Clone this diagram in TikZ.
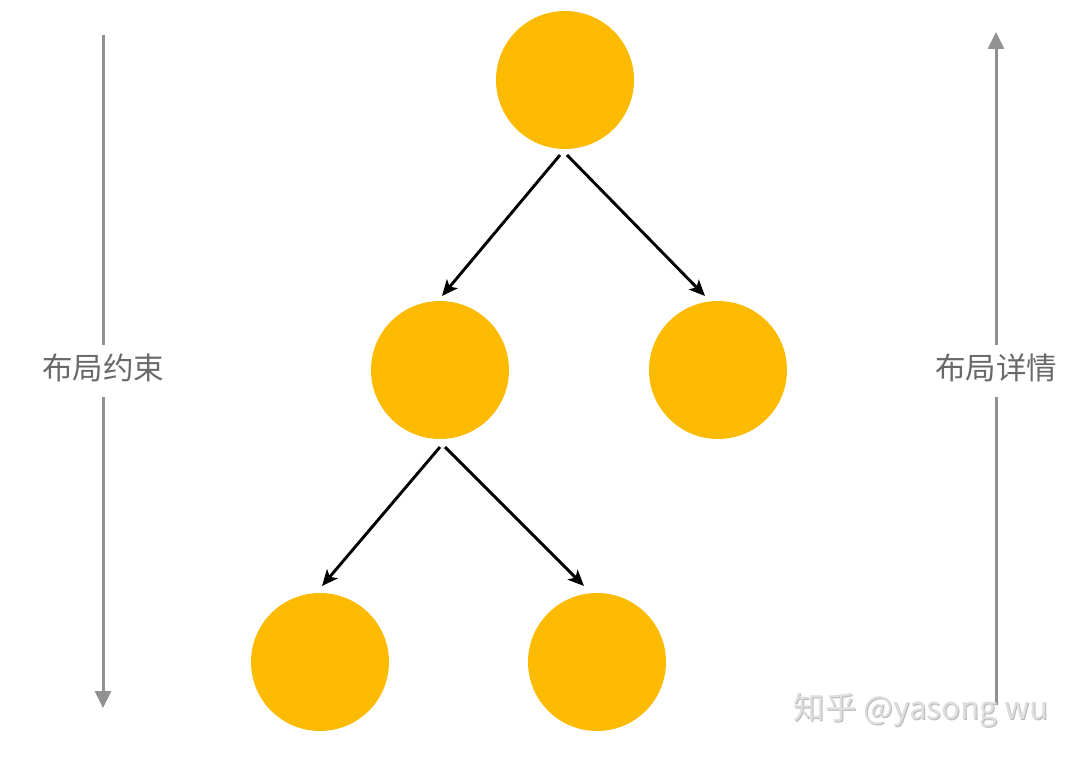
\documentclass[tikz,border=0pt]{standalone}
\usepackage{fontspec}
\setmainfont{Noto Sans CJK SC}
\newfontfamily\cjk{Noto Sans CJK SC}
\usetikzlibrary{arrows.meta}
\definecolor{amber}{RGB}{252,186,0}
\definecolor{guide}{RGB}{145,145,145}
\definecolor{labelgray}{RGB}{105,105,105}
\definecolor{wmark}{RGB}{222,222,222}
\begin{document}
\begin{tikzpicture}[x=1pt,y=-1pt,
  ball/.style={circle,fill=amber,minimum size=138pt,inner sep=0pt,outer sep=0pt},
  arr/.style={line width=2.9pt,black,-{Stealth[length=16pt,width=14pt,inset=4pt]}},
  guideline/.style={line width=3pt,guide},
  guidearrow/.style={guideline,-{Triangle[length=17pt,width=16pt]}},
  sidelabel/.style={font=\cjk\fontsize{30.5}{32}\selectfont,text=labelgray,text height=22pt,text depth=6pt,inner xsep=2pt,inner ysep=12pt}
]
\useasboundingbox[fill=white] (0,0) rectangle (1080,760);
% circles
\node[ball] (top) at (565,80) {};
\node[ball] (ml) at (440,370) {};
\node[ball] (mr) at (718,370) {};
\node[ball] (bl) at (320,662) {};
\node[ball] (br) at (597,662) {};
% tree arrows
\draw[arr] ([xshift=-5pt,yshift=-6pt]top.south) -- ([xshift=2pt,yshift=5pt]ml.north);
\draw[arr] ([xshift=2pt,yshift=-6pt]top.south) -- ([xshift=-13pt,yshift=5pt]mr.north);
\draw[arr] ([xshift=0pt,yshift=-8pt]ml.south) -- ([xshift=2pt,yshift=7pt]bl.north);
\draw[arr] ([xshift=5pt,yshift=-8pt]ml.south) -- ([xshift=-13pt,yshift=7pt]br.north);
% left guide
\coordinate (ltop) at (103,35);
\coordinate (lbot) at (103,708);
\node[sidelabel] (llab) at (103,371) {布局约束};
\draw[guideline] (ltop) -- (llab.north);
\draw[guidearrow] (llab.south) -- (lbot);
% right guide
\coordinate (rtop) at (996,32);
\coordinate (rbot) at (996,705);
\node[sidelabel] (rlab) at (996,371) {布局详情};
\draw[guideline] (rbot) -- (rlab.south);
\draw[guidearrow] (rlab.north) -- (rtop);
% watermark
\node[font=\cjk\fontsize{31.5}{33}\selectfont,text=gray!55,anchor=west] at (791,711) {知乎 @yasong wu};
\node[font=\cjk\fontsize{31.5}{33}\selectfont,text=wmark,anchor=west] (wm) at (790,710) {知乎 @yasong wu};
\end{tikzpicture}
\end{document}
